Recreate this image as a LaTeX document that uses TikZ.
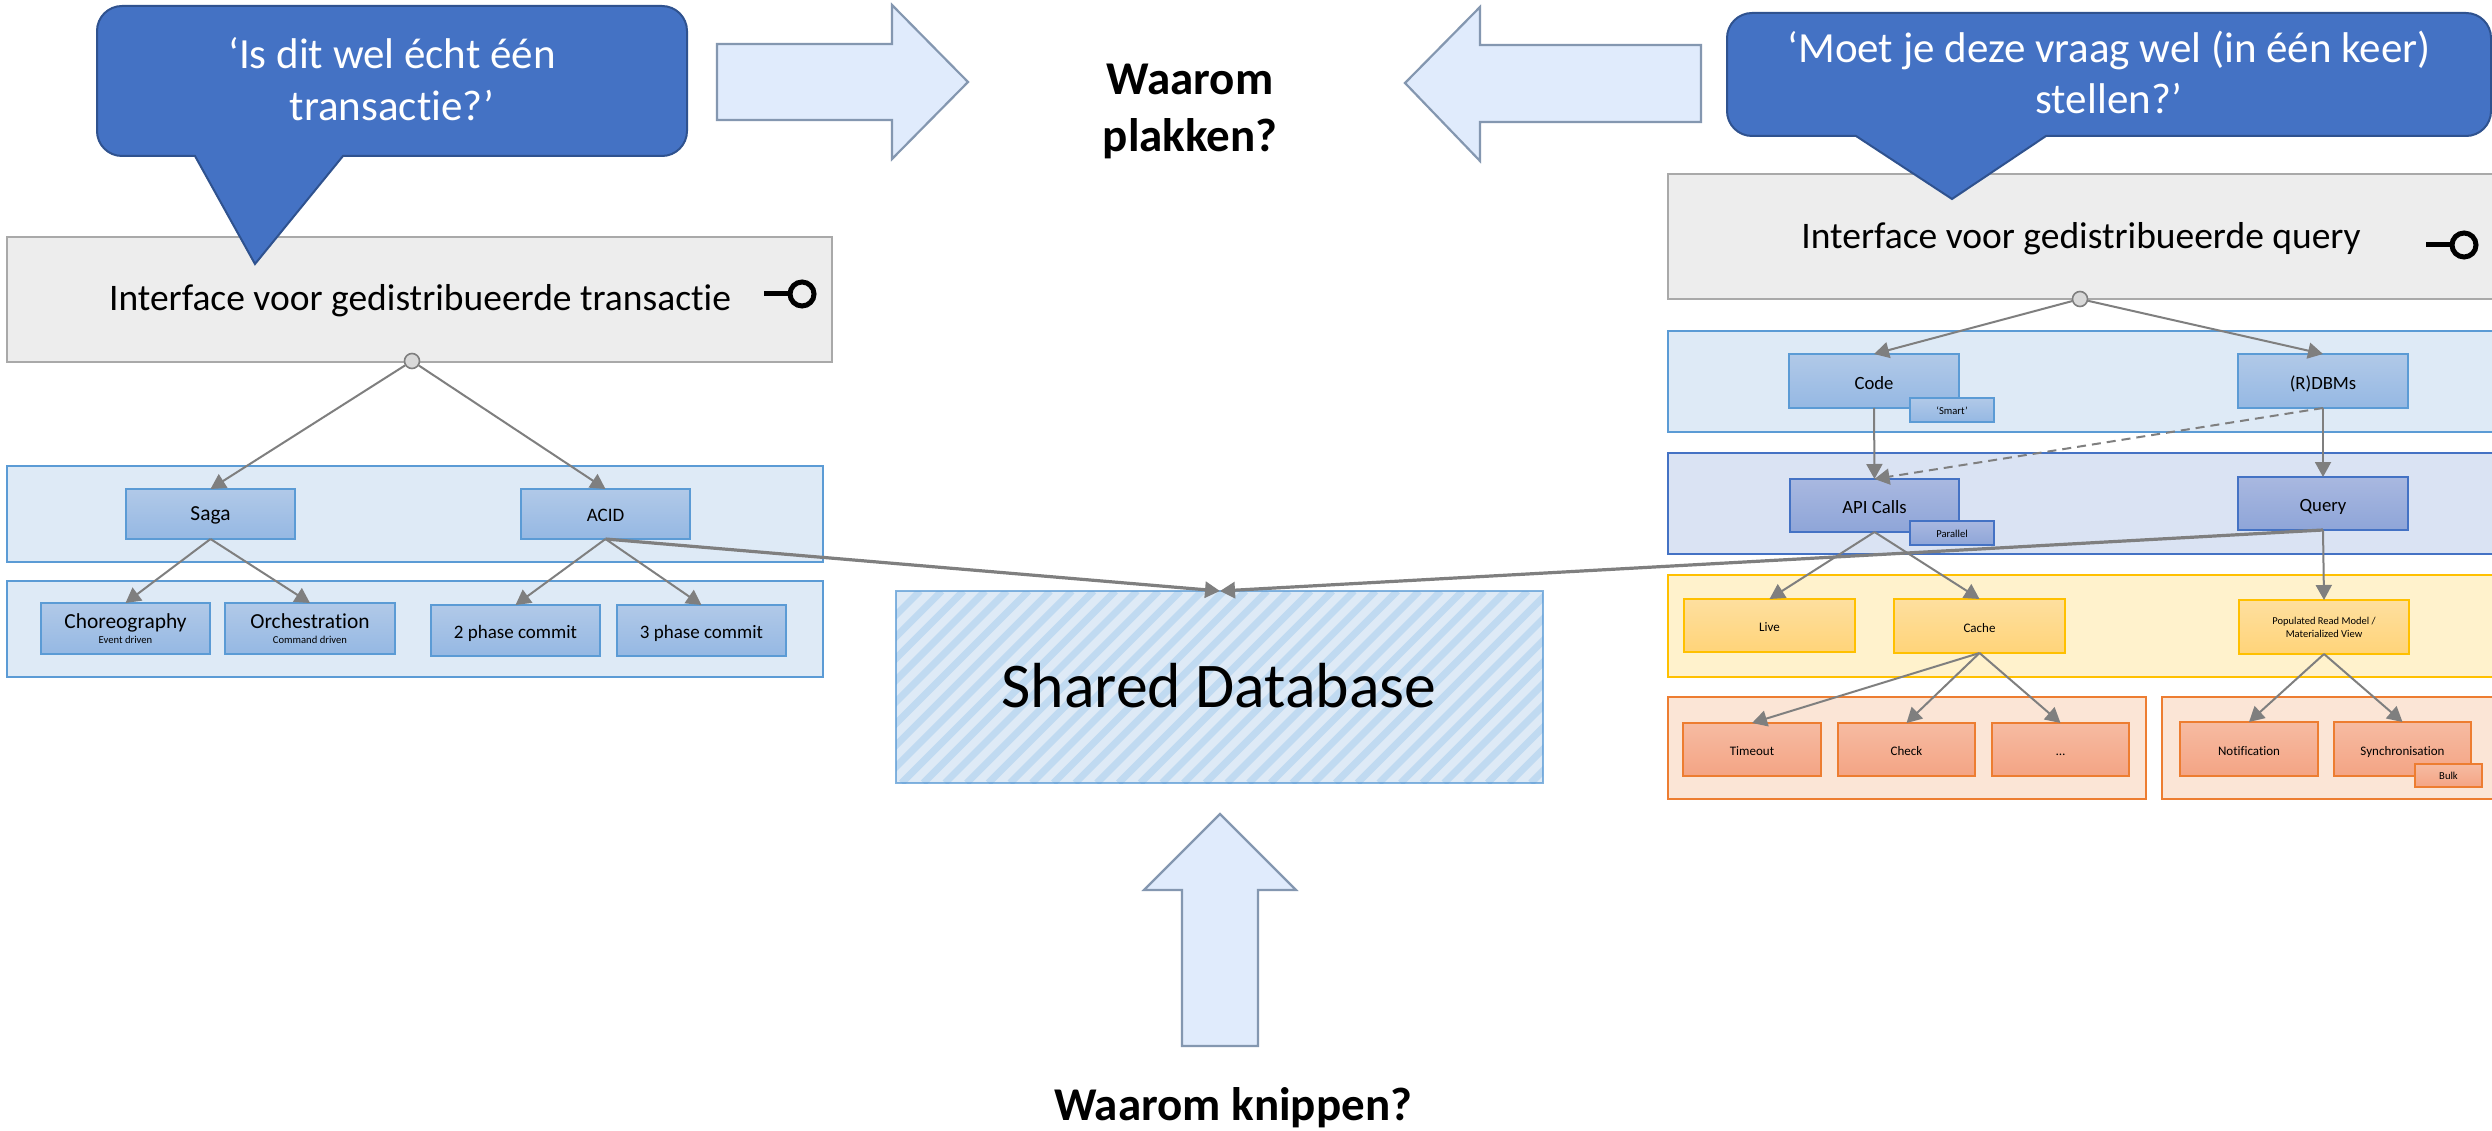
\documentclass[tikz,border=0pt]{standalone}
\usepackage{fontspec}
\setmainfont{Carlito}[RawFeature={-liga;-clig;-dlig}]
\usetikzlibrary{arrows.meta,calc}
\definecolor{bandB}{HTML}{DEEAF6}\definecolor{edgeB}{HTML}{5B9BD5}
\definecolor{topB}{HTML}{B1C9E8}\definecolor{botB}{HTML}{95B8E3}
\definecolor{bandD}{HTML}{DAE3F3}\definecolor{edgeD}{HTML}{4472C4}
\definecolor{topD}{HTML}{A9B8E0}\definecolor{botD}{HTML}{8EA5D8}
\definecolor{bandY}{HTML}{FFF2CC}\definecolor{edgeY}{HTML}{FFC000}
\definecolor{topY}{HTML}{FEDF9F}\definecolor{botY}{HTML}{FFD479}
\definecolor{bandO}{HTML}{FBE5D6}\definecolor{edgeO}{HTML}{ED7D31}
\definecolor{topO}{HTML}{F6BBA2}\definecolor{botO}{HTML}{F4A484}
\definecolor{grayF}{HTML}{EDEDED}\definecolor{grayE}{HTML}{A9A9A9}
\definecolor{callF}{HTML}{4472C4}\definecolor{callE}{HTML}{2F528F}
\definecolor{arrF}{HTML}{E0EBFC}\definecolor{arrE}{HTML}{8497B0}
\definecolor{conn}{HTML}{7F7F7F}\definecolor{stripe}{HTML}{C0DAF1}
\newcommand{\fs}[1]{\fontsize{#1}{\dimexpr#1pt*5/4\relax}\selectfont}
\newcommand{\bx}[7][]{% opts name x1 y1 x2 y2 text
  \pgfmathsetmacro{\cxx}{(#3+#5)/2}\pgfmathsetmacro{\cyy}{(#4+#6)/2}
  \pgfmathsetmacro{\wdd}{#5-#3}\pgfmathsetmacro{\htt}{#6-#4}
  \node[boxbase,minimum width=\wdd pt,minimum height=\htt pt,#1] (#2) at (\cxx,\cyy) {#7};}
\tikzset{
  boxbase/.style={rectangle,inner sep=0pt,outer sep=0pt,line width=2pt,align=center,text=black},
  band/.style={boxbase,line width=1.8pt},
  bb/.style={band,fill=bandB,draw=edgeB},
  bd/.style={band,fill=bandD,draw=edgeD},
  by/.style={band,fill=bandY,draw=edgeY},
  bo/.style={band,fill=bandO,draw=edgeO},
  ig/.style={band,fill=grayF,draw=grayE,line width=2pt},
  tb/.style={draw=edgeB,top color=topB,bottom color=botB},
  td/.style={draw=edgeD,top color=topD,bottom color=botD},
  ty/.style={draw=edgeY,top color=topY,bottom color=botY},
  to/.style={draw=edgeO,top color=topO,bottom color=botO},
  fa/.style={font=\fs{21.4},text height=12pt,text depth=0pt},
  fb/.style={font=\fs{19},text height=15pt,text depth=0pt},
  fc/.style={font=\fs{18.7},text height=16pt,text depth=0pt},
  fd/.style={font=\fs{13},text height=12pt,text depth=0pt},
  fe/.style={font=\fs{10.6},text height=8pt,text depth=0pt},
  lab/.style={inner sep=0pt,outer sep=0pt,align=center,anchor=base},
  big/.style={lab,font=\fs{37.5}},
  calltxt/.style={lab,text=white,font=\fs{43}},
  heading/.style={lab,font=\bfseries\fs{47}},
  callout/.style={fill=callF,draw=callE,line width=2pt},
  fatarrow/.style={fill=arrF,draw=arrE,line width=2.2pt,line join=miter},
  cn/.style={draw=conn,line width=2pt,-{Triangle[length=15pt,width=16pt]}},
  cnthick/.style={cn,line width=3.2pt},
  dotn/.style={circle,draw=conn,fill=black!15,line width=1.6pt,minimum size=15pt,inner sep=0pt},
  ring/.style={circle,draw=black,line width=5pt,minimum size=24pt,inner sep=0pt}
}
\begin{document}
\begin{tikzpicture}[x=1pt,y=-1pt]
\useasboundingbox[fill=white] (0,0) rectangle (2492,1131);
% bands
\bx[ig]{igl}{7}{237}{832}{362}{}
\bx[ig]{igr}{1668}{174}{2500}{299}{}
\bx[bb]{bl1}{7}{466}{823}{562}{}
\bx[bb]{bl2}{7}{581}{823}{677}{}
\bx[bb]{br1}{1668}{331}{2500}{432}{}
\bx[bd]{br2}{1668}{453}{2500}{554}{}
\bx[by]{br3}{1668}{575}{2500}{677}{}
\bx[bo]{br4}{1668}{697}{2146}{799}{}
\bx[bo]{br5}{2162}{697}{2500}{799}{}
% interface labels
\node[big] (tl) at (420,311) {Interface voor gedistribueerde transactie};
\node[big] (tr) at (2081,249) {Interface voor gedistribueerde query};
% left boxes
\bx[tb,fa]{saga}{126}{489}{295}{539}{Saga}
\bx[tb,fb]{acid}{521}{489}{690}{539}{ACID}
\bx[tb]{chor}{41}{603}{210}{654}{\fs{21.4}Choreography\\[3pt]\fs{10.6}Event driven}
\bx[tb]{orch}{225}{603}{395}{654}{\fs{21.4}Orchestration\\[3pt]\fs{10.6}Command driven}
\bx[tb,fb]{pc2}{431}{605}{600}{656}{2 phase commit}
\bx[tb,fb]{pc3}{617}{605}{786}{656}{3 phase commit}
% right boxes
\bx[tb,fc]{code}{1789}{354}{1959}{408}{Code}
\bx[tb,fe]{smart}{1910}{398}{1994}{422}{‘Smart’}
\bx[tb,fc]{rdbm}{2238}{354}{2408}{408}{(R)DBMs}
\bx[td,fc]{api}{1790}{479}{1959}{532}{API Calls}
\bx[td,fe]{par}{1910}{521}{1994}{545}{Parallel}
\bx[td,fc]{query}{2238}{477}{2408}{530}{Query}
\bx[ty,fd]{live}{1684}{599}{1855}{652}{Live}
\bx[ty,fd]{cache}{1894}{599}{2065}{653}{Cache}
\bx[ty,font=\fs{10.5}]{prm}{2239}{600}{2409}{654}{Populated Read Model /\\Materialized View}
\bx[to,fd]{tmo}{1683}{723}{1821}{776}{Timeout}
\bx[to,fd]{chk}{1838}{723}{1975}{776}{Check}
\bx[to,fd]{dots}{1992}{723}{2129}{776}{…}
\bx[to,fd]{ntf}{2180}{722}{2318}{776}{Notification}
\bx[to,fd]{syn}{2334}{722}{2471}{776}{Synchronisation}
\bx[to,fe]{bulk}{2415}{764}{2482}{787}{Bulk}
% shared db
\bx[fill=bandB]{db}{896}{591}{1543}{783}{}
\begin{scope}
\clip (896,591) rectangle (1543,783);
\foreach \k in {0,...,38}{
  \draw[stripe,line width=7pt] ({728+\k*21.7},783) -- ({920+\k*21.7},591);
}
\end{scope}
\draw[edgeB,line width=1.8pt,opacity=.75] (896,591) rectangle (1543,783);
\node[lab,font=\fs{63.7}] (dbt) at (1219,707) {Shared Database};
% connector dots
\node[dotn] (dl) at (412,361) {};
\node[dotn] (dr) at (2080,299) {};
\draw[cn] (dl) -- (saga.north);
\draw[cn] (dl) -- (acid.north);
\draw[cn] (dr) -- (code.north);
\draw[cn] (dr) -- (rdbm.north);
\draw[cn] (saga.south) -- (chor.north);
\draw[cn] (saga.south) -- (orch.north);
\draw[cn] (acid.south) -- (pc2.north);
\draw[cn] (acid.south) -- (pc3.north);
\draw[cn] (code.south) -- (api.north);
\draw[cn,dash pattern=on 9pt off 6pt] (rdbm.south) -- (api.north);
\draw[cn] (rdbm.south) -- (query.north);
\draw[cn] (api.south) -- (live.north);
\draw[cn] (api.south) -- (cache.north);
\draw[cn] (query.south) -- (prm.north);
\draw[cn] (cache.south) -- (tmo.north);
\draw[cn] (cache.south) -- (chk.north);
\draw[cn] (cache.south) -- (dots.north);
\draw[cn] (prm.south) -- (ntf.north);
\draw[cn] (prm.south) -- (syn.north);
\coordinate (dbtop) at (1220,591);
\draw[cnthick] (acid.south) -- (dbtop);
\draw[cnthick] (query.south) -- (dbtop);
% key symbols
\node[ring] (kl) at (802,294) {};
\draw[black,line width=5pt] (764,294) -- (kl.west);
\node[ring] (kr) at (2464,245) {};
\draw[black,line width=5pt] (2426,245) -- (kr.west);
% callouts
\draw[callout] (255,264) -- (195,156) -- (160,156) [rounded corners=25pt] -- (97,156) -- (97,6) -- (687,6) -- (687,156) -- (400,156) [sharp corners] -- (343,156) -- cycle;
\draw[callout] (1952,199) -- (1856,136) -- (1800,136) [rounded corners=25pt] -- (1727,136) -- (1727,13) -- (2491,13) -- (2491,136) -- (2100,136) [sharp corners] -- (2046,136) -- cycle;
\node[calltxt] (cl1) at (392,69) {‘Is dit wel écht één};
\node[calltxt] (cl2) at (392,121) {transactie?’};
\node[calltxt] (cr1) at (2109,63) {‘Moet je deze vraag wel (in één keer)};
\node[calltxt] (cr2) at (2109,114) {stellen?’};
% big arrows
\draw[fatarrow] (717,44) -- (892,44) -- (892,5) -- (968,82) -- (892,159) -- (892,120) -- (717,120) -- cycle;
\draw[fatarrow] (1701,45) -- (1480,45) -- (1480,7) -- (1405,83) -- (1480,161) -- (1480,122) -- (1701,122) -- cycle;
\draw[fatarrow] (1182,1046) -- (1182,890) -- (1144,890) -- (1220,814) -- (1296,890) -- (1258,890) -- (1258,1046) -- cycle;
\node[heading] (w1) at (1190,95) {Waarom};
\node[heading] (w2) at (1190,152) {plakken?};
\node[heading] (w3) at (1233,1120) {Waarom knippen?};
\end{tikzpicture}
\end{document}
